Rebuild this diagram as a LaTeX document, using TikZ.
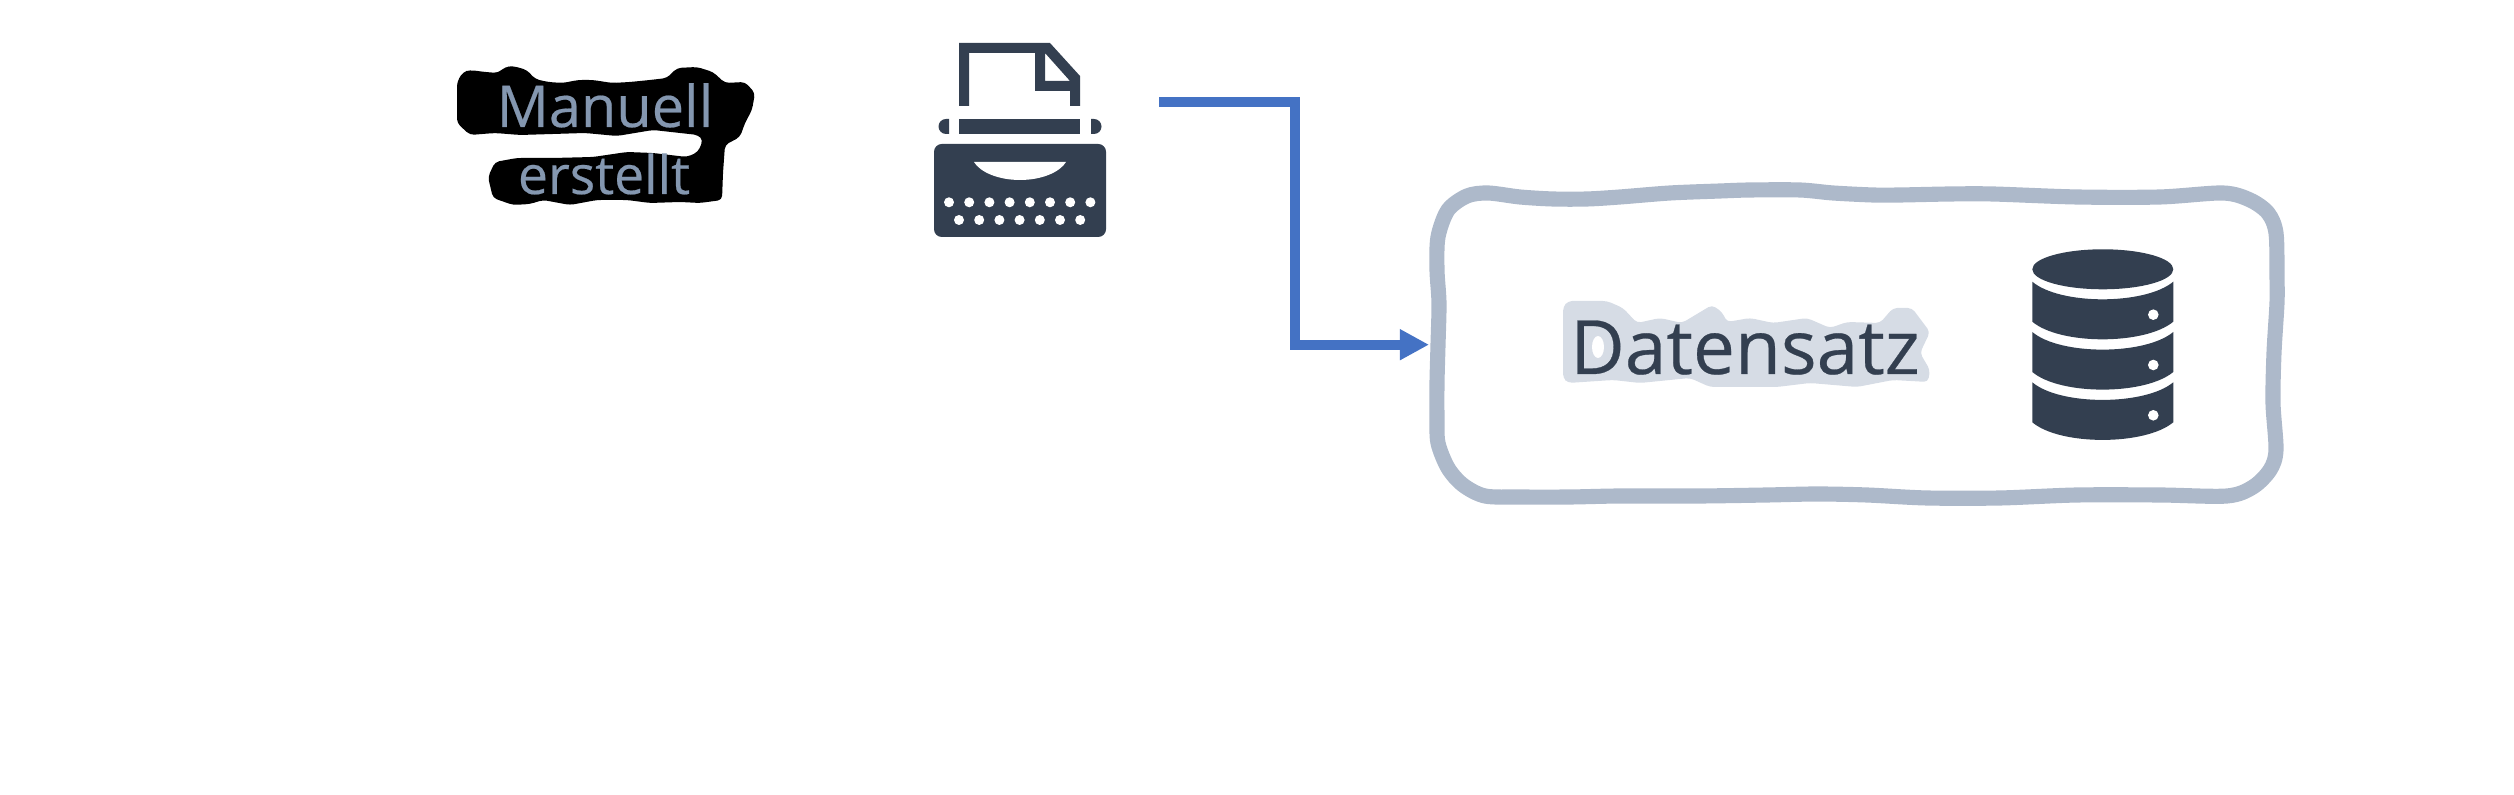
\documentclass[tikz,border=0pt]{standalone}
\usepackage{fontspec}
\setmainfont[FakeBold=0.35]{Open Sans}
\usetikzlibrary{arrows.meta}
\definecolor{slatedark}{HTML}{333F50}
\definecolor{slatemid}{HTML}{8497B0}
\definecolor{slateline}{HTML}{ADB9CA}
\definecolor{slatehalo}{HTML}{D6DCE5}
\definecolor{flowblue}{HTML}{4472C4}
\tikzset{
	labelnode/.style={inner sep=0pt, anchor=base},
	flowline/.style={line width=2.85pt, color=flowblue, -{Triangle[length=8.3pt, width=8.3pt]}},
	icon/.style={fill=slatedark},
	blob/.style={rounded corners=1.2pt}
}

\begin{document}
\begin{tikzpicture}[x=0.01cm, y=-0.01cm]
			%%%%% START %%%%%
			\useasboundingbox (0, 0) rectangle (2514, 795);

			% black patch behind the left label
			\fill[black, blob] (457, 82) -- (463, 72) -- (470, 70) -- (485, 72) -- (498, 73) -- (505, 67) -- (513, 66) -- (527, 70) -- (535, 79) -- (548, 82) -- (563, 83) -- (578, 80) -- (593, 80) -- (612, 83) -- (630, 82) -- (650, 80) -- (667, 78) -- (677, 68) -- (697, 67) -- (713, 72) -- (725, 83) -- (745, 82) -- (755, 93) -- (752, 110) -- (745, 123) -- (740, 137) -- (725, 145) -- (723, 173) -- (722, 200) -- (700, 203) -- (680, 202) -- (650, 203) -- (627, 200) -- (597, 200) -- (570, 205) -- (543, 200) -- (530, 204) -- (513, 205) -- (493, 198) -- (488, 177) -- (495, 162) -- (517, 158) -- (553, 158) -- (593, 157) -- (627, 152) -- (653, 153) -- (687, 157) -- (698, 152) -- (703, 140) -- (698, 135) -- (653, 130) -- (617, 136) -- (585, 133) -- (553, 134) -- (520, 135) -- (495, 133) -- (470, 135) -- (457, 123) -- cycle;
			\node[labelnode, text=slatemid, font=\fontsize{16.4pt}{20pt}\selectfont] (manuell) at (605, 127) {Manuell};
			\node[labelnode, text=slatemid, font=\fontsize{15.2pt}{18pt}\selectfont] (erstellt) at (604, 194) {erstellt};

			% typewriter
			\fill[icon, even odd rule] (959, 43) -- (1050, 43) -- (1080, 76) -- (1080, 106) -- (1070, 106) -- (1070, 91) -- (1035, 91) -- (1035, 53) -- (969, 53) -- (969, 106) -- (959, 106) -- cycle (1045, 53) -- (1045, 81) -- (1070, 81) -- cycle;
			\fill[icon] (959, 119) rectangle (1080, 134);
			\fill[icon] (949, 119) -- (949, 134) -- (946, 134) arc (90:270:7.5) -- cycle;
			\fill[icon] (1091, 119) -- (1091, 134) -- (1094, 134) arc (90:-90:7.5) -- cycle;
			\fill[icon, rounded corners=2.2pt] (934, 144) rectangle (1106, 237);
			\fill[white] (974, 162) -- (1066, 162) .. controls (1060, 172) and (1042, 180) .. (1020, 180) .. controls (998, 180) and (980, 172) .. (974, 162) -- cycle;
			\foreach \k in {0,...,7}
				\fill[white] (949 + \k*20.2, 202.3) circle (5);
			\foreach \k in {0,...,6}
				\fill[white] (959 + \k*20.2, 220) circle (5);

			% connector
			\coordinate (typewriterout) at (1159, 102);
			\coordinate (bend) at (1295, 344.7);
			\coordinate (datasetin) at (1429, 344.7);
			\draw[flowline] (typewriterout) -| (bend) -- (datasetin);

			% hand drawn frame
			\draw[slateline, line width=4.3pt] plot[smooth cycle, tension=0.5] coordinates {(1488, 193) (1520, 197) (1553, 199) (1587, 199) (1620, 197) (1670, 193) (1720, 191) (1750, 190) (1800, 190) (1833, 193) (1873, 195) (1900, 195) (1950, 194) (1993, 194) (2077, 197) (2160, 197) (2223, 193) (2250, 200) (2268, 213) (2276, 233) (2277, 277) (2277, 303) (2274, 353) (2273, 403) (2276, 450) (2270, 470) (2253, 487) (2227, 496) (2160, 495) (2077, 495) (2000, 498) (1927, 498) (1867, 495) (1817, 494) (1767, 495) (1700, 496) (1620, 496) (1570, 497) (1520, 497) (1485, 496) (1463, 485) (1448, 468) (1438, 443) (1437, 417) (1437, 383) (1438, 345) (1439, 303) (1437, 270) (1438, 237) (1448, 210) (1467, 196)};

			% pale patch behind the right label
			\fill[slatehalo, blob] (1563, 307) -- (1568, 301) -- (1607, 301) -- (1623, 308) -- (1637, 323) -- (1660, 318) -- (1682, 323) -- (1712, 305) -- (1722, 312) -- (1727, 322) -- (1750, 318) -- (1773, 323) -- (1807, 318) -- (1830, 328) -- (1847, 322) -- (1880, 323) -- (1893, 308) -- (1912, 308) -- (1930, 332) -- (1920, 353) -- (1930, 370) -- (1928, 382) -- (1893, 380) -- (1857, 387) -- (1810, 383) -- (1777, 387) -- (1747, 387) -- (1710, 387) -- (1690, 378) -- (1640, 383) -- (1613, 380) -- (1568, 383) -- (1563, 378) -- cycle;
			\fill[white] (1598, 347) ellipse (6 and 11);
			\node[labelnode, text=slatedark, font=\fontsize{21.3pt}{24pt}\selectfont] (datensatz) at (1745, 374) {Datensatz};

			% database
			\fill[icon] (2102.8, 269.3) ellipse (70.5 and 20);
			\foreach \ytop in {281.7, 332, 382.3} {
				\fill[icon] (2032.3, \ytop) .. controls (2060, \ytop + 23.5) and (2145, \ytop + 23.5) .. (2173.3, \ytop) -- (2173.3, \ytop + 40) .. controls (2145, \ytop + 63.5) and (2060, \ytop + 63.5) .. (2032.3, \ytop + 40) -- cycle;
				\fill[white] (2153.3, \ytop + 33) circle (5.3);
			}
			%%%%% END %%%%%
\end{tikzpicture}
\end{document}
